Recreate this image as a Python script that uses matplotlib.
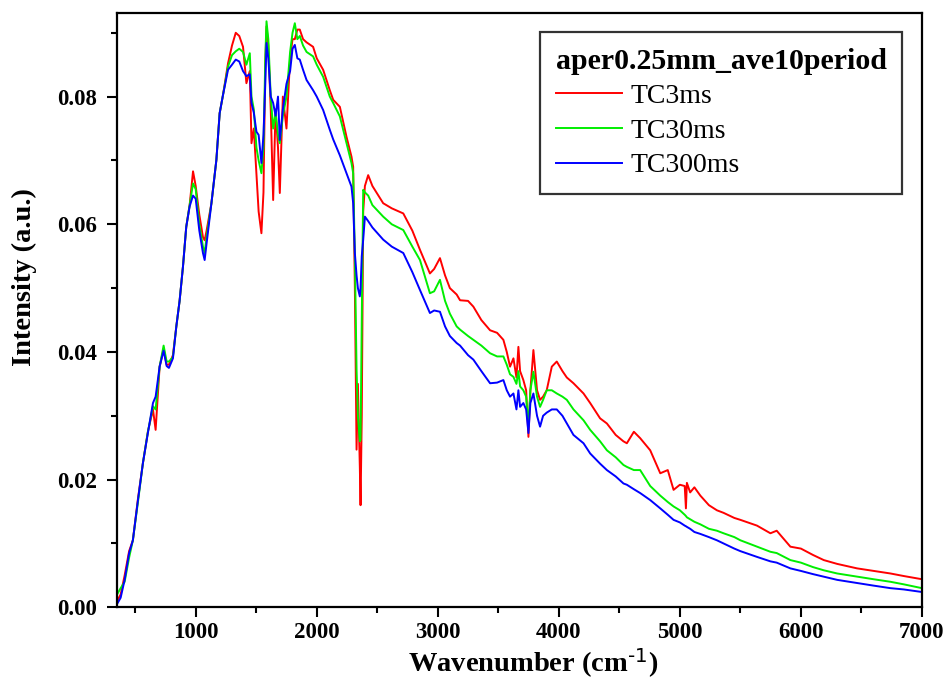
import matplotlib
matplotlib.use("Agg")
import matplotlib.pyplot as plt
from matplotlib.ticker import MultipleLocator, FormatStrFormatter

plt.rcParams['font.family'] = ['Liberation Serif', 'DejaVu Serif']
plt.rcParams['mathtext.default'] = 'regular'

wavenumber = [350, 380, 413, 450, 481, 523, 564, 605, 647, 669, 702, 735, 760, 779, 812, 840,
              867, 895, 922, 950, 978, 1000, 1030, 1060, 1074, 1090, 1130, 1171, 1198, 1226,
              1267, 1300, 1331, 1360, 1391, 1419, 1447, 1461, 1480, 1502, 1520, 1543, 1560,
              1575, 1585, 1600, 1620, 1640, 1660, 1680, 1695, 1720, 1750, 1780, 1800, 1819,
              1840, 1860, 1887, 1916, 1970, 2000, 2053, 2108, 2136, 2191, 2246, 2287, 2301,
              2315, 2329, 2340, 2356, 2362, 2372, 2384, 2398, 2425, 2460, 2549, 2620, 2715,
              2790, 2853, 2935, 2970, 3018, 3060, 3100, 3156, 3184, 3250, 3294, 3360, 3432,
              3490, 3542, 3570, 3597, 3625, 3650, 3666, 3680, 3707, 3730, 3749, 3765, 3790,
              3820, 3845, 3870, 3900, 3942, 3983, 4030, 4066, 4121, 4204, 4259, 4341, 4397,
              4470, 4534, 4562, 4620, 4672, 4755, 4838, 4900, 4948, 5000, 5040, 5050, 5058,
              5085, 5120, 5169, 5240, 5306, 5361, 5450, 5500, 5637, 5748, 5800, 5913, 6000,
              6100, 6189, 6300, 6464, 6600, 6740, 6850, 7000]

tc3ms = [0.0010, 0.0020, 0.0050, 0.0088, 0.0105, 0.0170, 0.0226, 0.0275, 0.0310, 0.0278, 0.0377,
         0.0405, 0.0380, 0.0380, 0.0395, 0.0440, 0.0480, 0.0534, 0.0596, 0.0630, 0.0683, 0.0660,
         0.0615, 0.0580, 0.0575, 0.0590, 0.0633, 0.0701, 0.0774, 0.0803, 0.0852, 0.0880, 0.0900,
         0.0895, 0.0878, 0.0821, 0.0840, 0.0727, 0.0750, 0.0680, 0.0620, 0.0586, 0.0650, 0.0850,
         0.0910, 0.0880, 0.0780, 0.0638, 0.0780, 0.0720, 0.0649, 0.0800, 0.0750, 0.0860, 0.0890,
         0.0890, 0.0905, 0.0905, 0.0890, 0.0885, 0.0878, 0.0860, 0.0842, 0.0810, 0.0795, 0.0784,
         0.0737, 0.0706, 0.0690, 0.0500, 0.0247, 0.0350, 0.0220, 0.0160, 0.0300, 0.0620, 0.0660,
         0.0677, 0.0660, 0.0633, 0.0625, 0.0617, 0.0590, 0.0560, 0.0523, 0.0530, 0.0547, 0.0520,
         0.0500, 0.0490, 0.0481, 0.0480, 0.0471, 0.0450, 0.0434, 0.0430, 0.0419, 0.0400, 0.0377,
         0.0390, 0.0360, 0.0408, 0.0370, 0.0356, 0.0340, 0.0267, 0.0340, 0.0403, 0.0340, 0.0325,
         0.0330, 0.0340, 0.0377, 0.0385, 0.0370, 0.0360, 0.0351, 0.0335, 0.0320, 0.0296, 0.0288,
         0.0270, 0.0260, 0.0257, 0.0275, 0.0265, 0.0246, 0.0210, 0.0215, 0.0184, 0.0192, 0.0190,
         0.0155, 0.0195, 0.0180, 0.0188, 0.0175, 0.0160, 0.0152, 0.0148, 0.0140, 0.0137, 0.0128,
         0.0116, 0.0120, 0.0095, 0.0092, 0.0082, 0.0074, 0.0068, 0.0061, 0.0057, 0.0053, 0.0049,
         0.0044]

tc30ms = [0.0020, 0.0030, 0.0040, 0.0078, 0.0105, 0.0165, 0.0226, 0.0275, 0.0315, 0.0310, 0.0377,
          0.0410, 0.0385, 0.0385, 0.0392, 0.0440, 0.0480, 0.0534, 0.0596, 0.0630, 0.0664, 0.0655,
          0.0600, 0.0565, 0.0555, 0.0580, 0.0633, 0.0701, 0.0774, 0.0803, 0.0847, 0.0865, 0.0871,
          0.0875, 0.0870, 0.0850, 0.0868, 0.0800, 0.0780, 0.0720, 0.0700, 0.0680, 0.0720, 0.0860,
          0.0918, 0.0890, 0.0800, 0.0750, 0.0775, 0.0740, 0.0727, 0.0770, 0.0800, 0.0870, 0.0900,
          0.0915, 0.0890, 0.0895, 0.0880, 0.0870, 0.0863, 0.0850, 0.0831, 0.0800, 0.0790, 0.0769,
          0.0727, 0.0696, 0.0680, 0.0550, 0.0372, 0.0300, 0.0260, 0.0262, 0.0450, 0.0654, 0.0650,
          0.0645, 0.0630, 0.0612, 0.0600, 0.0591, 0.0565, 0.0544, 0.0492, 0.0495, 0.0513, 0.0480,
          0.0460, 0.0440, 0.0435, 0.0425, 0.0419, 0.0410, 0.0398, 0.0393, 0.0393, 0.0380, 0.0365,
          0.0361, 0.0350, 0.0370, 0.0346, 0.0340, 0.0330, 0.0283, 0.0340, 0.0369, 0.0330, 0.0314,
          0.0325, 0.0340, 0.0340, 0.0335, 0.0330, 0.0325, 0.0310, 0.0293, 0.0278, 0.0260, 0.0246,
          0.0235, 0.0223, 0.0220, 0.0215, 0.0215, 0.0190, 0.0175, 0.0165, 0.0158, 0.0152, 0.0145,
          0.0143, 0.0141, 0.0138, 0.0134, 0.0130, 0.0123, 0.0120, 0.0116, 0.0110, 0.0105, 0.0095,
          0.0087, 0.0085, 0.0074, 0.0070, 0.0063, 0.0058, 0.0053, 0.0048, 0.0044, 0.0040, 0.0036,
          0.0030]

tc300ms = [0.0005, 0.0015, 0.0043, 0.0085, 0.0105, 0.0168, 0.0226, 0.0273, 0.0320, 0.0330, 0.0377,
           0.0402, 0.0378, 0.0375, 0.0390, 0.0440, 0.0480, 0.0534, 0.0596, 0.0628, 0.0645, 0.0640,
           0.0590, 0.0555, 0.0544, 0.0570, 0.0633, 0.0701, 0.0774, 0.0803, 0.0842, 0.0850, 0.0858,
           0.0855, 0.0840, 0.0832, 0.0835, 0.0790, 0.0775, 0.0745, 0.0740, 0.0696, 0.0740, 0.0820,
           0.0884, 0.0860, 0.0800, 0.0790, 0.0770, 0.0800, 0.0732, 0.0780, 0.0820, 0.0840, 0.0875,
           0.0881, 0.0860, 0.0858, 0.0842, 0.0826, 0.0810, 0.0800, 0.0779, 0.0748, 0.0733, 0.0708,
           0.0680, 0.0659, 0.0633, 0.0555, 0.0520, 0.0500, 0.0487, 0.0500, 0.0550, 0.0576, 0.0612,
           0.0605, 0.0595, 0.0576, 0.0565, 0.0555, 0.0525, 0.0497, 0.0461, 0.0465, 0.0463, 0.0440,
           0.0425, 0.0414, 0.0410, 0.0395, 0.0388, 0.0370, 0.0351, 0.0352, 0.0356, 0.0340, 0.0330,
           0.0335, 0.0310, 0.0340, 0.0314, 0.0320, 0.0310, 0.0273, 0.0320, 0.0335, 0.0300, 0.0283,
           0.0300, 0.0305, 0.0310, 0.0310, 0.0300, 0.0288, 0.0270, 0.0257, 0.0241, 0.0225, 0.0215,
           0.0205, 0.0194, 0.0192, 0.0185, 0.0179, 0.0168, 0.0155, 0.0145, 0.0137, 0.0133, 0.0128,
           0.0127, 0.0126, 0.0123, 0.0118, 0.0115, 0.0110, 0.0105, 0.0100, 0.0092, 0.0088, 0.0079,
           0.0072, 0.0070, 0.0061, 0.0057, 0.0052, 0.0048, 0.0043, 0.0038, 0.0034, 0.0030, 0.0028,
           0.0024]

series = [("TC3ms", tc3ms, "#ff0000"), ("TC30ms", tc30ms, "#00ee00"), ("TC300ms", tc300ms, "#0000ff")]
legend_title = "aper0.25mm_ave10period"

fig = plt.figure(figsize=(9.49, 6.91), dpi=100)
ax = fig.add_axes([0.1233, 0.1211, 0.8482, 0.8601])

for name, vals, col in series:
    ax.plot(wavenumber, vals, color=col, lw=1.4, label=name)

ax.set_xlim(350, 7000)
ax.set_ylim(0, 0.0931)
ax.xaxis.set_major_locator(MultipleLocator(1000))
ax.xaxis.set_minor_locator(MultipleLocator(500))
ax.yaxis.set_major_locator(MultipleLocator(0.02))
ax.yaxis.set_minor_locator(MultipleLocator(0.01))
ax.yaxis.set_major_formatter(FormatStrFormatter('%.2f'))

for sp in ax.spines.values():
    sp.set_linewidth(1.6)
ax.tick_params(which='major', direction='out', length=7.5, width=1.5, labelsize=16.5, pad=3)
ax.tick_params(which='minor', direction='out', length=4, width=1.5)
ax.tick_params(axis='y', which='major', pad=7)
for lab in ax.get_xticklabels() + ax.get_yticklabels():
    lab.set_fontweight('bold')

ax.set_xlabel(r"Wavenumber (cm$^{\text{-1}}$)", fontsize=20.5, fontweight='bold')
ax.set_ylabel("Intensity (a.u.)", fontsize=20.5, fontweight='bold')
ax.xaxis.set_label_coords(0.517, -0.066)
ax.yaxis.set_label_coords(-0.099, 0.556)

leg = ax.legend(loc='upper right', bbox_to_anchor=(0.975, 0.9675), fontsize=20,
                title=legend_title, title_fontproperties={'weight': 'bold', 'size': 21.5},
                alignment='left', frameon=True, fancybox=False, edgecolor='black',
                handlelength=2.4, handletextpad=0.3, labelspacing=0.33, borderpad=0.55,
                borderaxespad=0)
leg.get_frame().set_linewidth(1.6)

fig.savefig("out.png", dpi=100)
